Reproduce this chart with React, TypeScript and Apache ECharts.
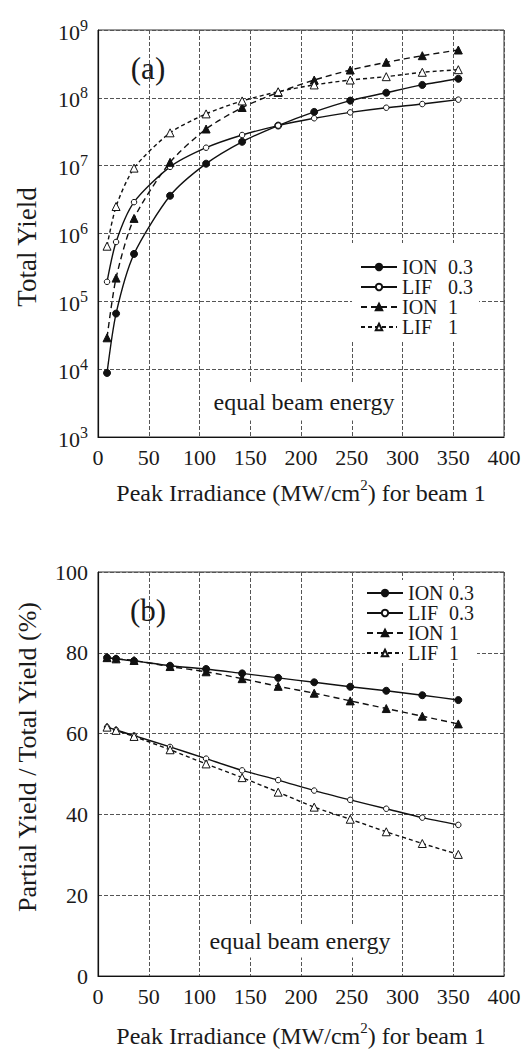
import React, { useEffect, useRef } from "react";
import * as echarts from "echarts";

// Shared x values (Peak Irradiance, MW/cm^2)
const xValues = [8.9, 17.8, 35.5, 71, 106.5, 142, 177.5, 213, 248.5, 284, 319.5, 355];

// (a) Total yield
const totalIon03 = [8.8e3, 6.6e4, 5.0e5, 3.6e6, 1.07e7, 2.25e7, 3.9e7, 6.2e7, 9.1e7, 1.19e8, 1.55e8, 1.91e8];
const totalLif03 = [1.94e5, 7.5e5, 2.9e6, 9.6e6, 1.84e7, 2.83e7, 3.9e7, 5.0e7, 6.1e7, 7.15e7, 8.1e7, 9.4e7];
const totalIon1 = [2.9e4, 2.2e5, 1.67e6, 1.12e7, 3.47e7, 7.2e7, 1.2e8, 1.83e8, 2.57e8, 3.34e8, 4.18e8, 5.07e8];
const totalLif1 = [6.5e5, 2.5e6, 9.2e6, 3.05e7, 5.8e7, 9.0e7, 1.23e8, 1.55e8, 1.83e8, 2.05e8, 2.38e8, 2.6e8];

// (b) Partial yield / total yield (%)
const partIon03 = [78.8, 78.5, 78.0, 76.8, 76.0, 74.9, 73.8, 72.7, 71.6, 70.6, 69.5, 68.3];
const partLif03 = [61.6, 60.9, 59.5, 56.7, 53.8, 50.9, 48.5, 45.9, 43.6, 41.4, 39.2, 37.4];
const partIon1 = [78.8, 78.5, 78.1, 76.6, 75.3, 73.6, 71.7, 70.0, 68.1, 66.2, 64.3, 62.4];
const partLif1 = [61.6, 60.8, 59.3, 56.0, 52.5, 49.1, 45.5, 41.8, 38.8, 35.7, 32.8, 30.1];

const seriesNames = ["ION 0.3", "LIF 0.3", "ION 1", "LIF 1"];
const xTickInterval = 50;
const xMax = 400;

const FONT = "Liberation Serif";
const INK = "#1a1a1a";

export default function App() {
  const ref = useRef<HTMLDivElement>(null);

  useEffect(() => {
    if (!ref.current) return;
    const chart = echarts.init(ref.current, undefined, { renderer: "svg" });

    const pts = (ys: number[]) => xValues.map((x, i) => [x, ys[i]]);

    const mk = (
      name: string,
      ys: number[],
      gi: number,
      symbol: string,
      filled: boolean,
      dash: any,
      size: number
    ) => ({
      type: "line",
      name,
      xAxisIndex: gi,
      yAxisIndex: gi,
      data: pts(ys),
      symbol,
      symbolSize: size,
      smooth: 0.25,
      z: 3,
      lineStyle: { color: "#111", width: 1.4, type: dash },
      itemStyle: { color: filled ? "#111" : "#fff", borderColor: "#111", borderWidth: 1 },
      emphasis: { disabled: true },
    });

    const splitLine = { show: true, lineStyle: { color: "#555", width: 1, type: [4, 2] } };
    const axisLine = { show: true, onZero: false, lineStyle: { color: "#111", width: 1.2 } };

    const xName = "{a|Peak Irradiance (MW/cm}{s|2}{a|) for beam 1}";
    const nameRich = {
      a: { fontFamily: FONT, fontSize: 24, color: INK, lineHeight: 28, verticalAlign: "bottom" },
      s: { fontFamily: FONT, fontSize: 15, color: INK, lineHeight: 15, verticalAlign: "top" },
    };

    const xAxis = [0, 1].map((gi) => ({
      gridIndex: gi,
      type: "value",
      min: 0,
      max: xMax,
      interval: xTickInterval,
      axisLine,
      axisTick: { show: false },
      axisLabel: { color: INK, fontFamily: FONT, fontSize: 22, margin: 9 },
      splitLine,
      name: xName,
      nameLocation: "middle",
      nameGap: gi === 0 ? 40 : 44,
      nameTextStyle: { fontFamily: FONT, rich: nameRich },
    }));

    const legendRich = (nw: number) => ({
      n: { fontFamily: FONT, fontSize: 20, color: INK, width: nw, lineHeight: 24 },
      v: { fontFamily: FONT, fontSize: 20, color: INK, width: 26, lineHeight: 24 },
    });
    const legendFmt = (name: string) => {
      const [n, v] = name.split(" ");
      return `{n|${n}}{v|${v}}`;
    };

    const option: any = {
      animation: false,
      backgroundColor: "#fff",
      textStyle: { fontFamily: FONT },
      grid: [
        { left: 98, top: 30, width: 406, height: 407, show: true, borderColor: "#333", borderWidth: 1, backgroundColor: "transparent" },
        { left: 98, top: 572, width: 406, height: 405, show: true, borderColor: "#333", borderWidth: 1, backgroundColor: "transparent" },
      ],
      xAxis,
      yAxis: [
        {
          gridIndex: 0,
          type: "log",
          logBase: 10,
          min: 1e3,
          max: 1e9,
          axisLine,
          axisTick: { show: false },
          minorTick: { show: false },
          splitLine,
          axisLabel: {
            margin: 10,
            fontFamily: FONT,
            formatter: (v: number) => `{b|10}{s|${Math.round(Math.log10(v))}}`,
            rich: {
              b: { fontFamily: FONT, fontSize: 22, color: INK, lineHeight: 26, verticalAlign: "bottom" },
              s: { fontFamily: FONT, fontSize: 16, color: INK, lineHeight: 16, verticalAlign: "top" },
            },
          },
        },
        {
          gridIndex: 1,
          type: "value",
          min: 0,
          max: 100,
          interval: 20,
          axisLine,
          axisTick: { show: false },
          splitLine,
          axisLabel: { color: INK, fontFamily: FONT, fontSize: 22, margin: 10 },
        },
      ],
      legend: [
        {
          data: seriesNames,
          orient: "vertical",
          left: 352,
          top: 243,
          padding: [14, 5, 5, 8],
          itemWidth: 36,
          itemHeight: 8,
          itemGap: 0,
          backgroundColor: "#fff",
          selectedMode: false,
          formatter: legendFmt,
          textStyle: { fontFamily: FONT, rich: legendRich(46) },
          z: 5,
        },
        {
          data: seriesNames,
          orient: "vertical",
          left: 365,
          top: 580,
          padding: [3, 2, 0, 1],
          itemWidth: 36,
          itemHeight: 8,
          itemGap: 0,
          backgroundColor: "#fff",
          selectedMode: false,
          formatter: legendFmt,
          textStyle: { fontFamily: FONT, rich: legendRich(41) },
          z: 5,
        },
      ],
      graphic: [
        { type: "text", z: 1, x: 148, y: 68, style: { text: "(a)", fontFamily: FONT, fontSize: 31, fill: INK, align: "center", verticalAlign: "middle" } },
        { type: "text", z: 1, x: 148, y: 610, style: { text: "(b)", fontFamily: FONT, fontSize: 31, fill: INK, align: "center", verticalAlign: "middle" } },
        {
          type: "text", z: 1, x: 304, y: 402,
          style: { text: "equal beam energy", fontFamily: FONT, fontSize: 24, fill: INK, align: "center", verticalAlign: "middle", backgroundColor: "#fff", padding: [6, 2, 7, 2] },
        },
        {
          type: "text", z: 1, x: 300, y: 941,
          style: { text: "equal beam energy", fontFamily: FONT, fontSize: 24, fill: INK, align: "center", verticalAlign: "middle", backgroundColor: "#fff", padding: [4, 2, 5, 2] },
        },
        {
          type: "text", z: 1, x: 27, y: 247, rotation: Math.PI / 2,
          style: { text: "Total Yield", fontFamily: FONT, fontSize: 27, fill: INK, align: "center", verticalAlign: "middle" },
        },
        {
          type: "text", z: 1, x: 27, y: 757, rotation: Math.PI / 2,
          style: { text: "Partial Yield / Total Yield (%)", fontFamily: FONT, fontSize: 26, fill: INK, align: "center", verticalAlign: "middle" },
        },
      ],
      series: [
        mk("ION 0.3", totalIon03, 0, "circle", true, "solid", 7),
        mk("LIF 0.3", totalLif03, 0, "circle", false, "solid", 5.5),
        mk("ION 1", totalIon1, 0, "triangle", true, [6, 4], 8),
        mk("LIF 1", totalLif1, 0, "triangle", false, [4, 3], 8),
        mk("ION 0.3", partIon03, 1, "circle", true, "solid", 7),
        mk("LIF 0.3", partLif03, 1, "circle", false, "solid", 5.5),
        mk("ION 1", partIon1, 1, "triangle", true, [6, 4], 8),
        mk("LIF 1", partLif1, 1, "triangle", false, [4, 3], 8),
      ],
    };

    chart.setOption(option);
    return () => chart.dispose();
  }, []);

  return (
    <div style={{ fontFamily: FONT }}>
      <div ref={ref} style={{ position: "absolute", left: 0, top: 0, width: 532, height: 1049 }} />
    </div>
  );
}
